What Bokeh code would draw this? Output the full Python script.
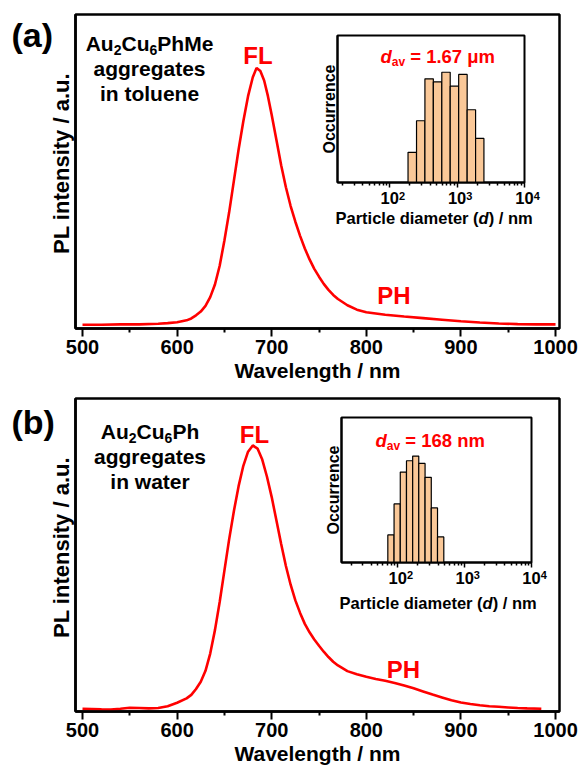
import math
from bokeh.plotting import figure
from bokeh.models import Range1d, FixedTicker, Label, GridBox, Column
from bokeh.embed import file_html
from bokeh.resources import INLINE

FONT = "Liberation Sans"

# ---------------- data ----------------
wl_a = [500, 520, 540, 560, 580, 590, 600, 610, 615, 620, 625, 630, 635, 640, 645, 650,
        655, 660, 665, 670, 675, 680, 684, 688, 692, 696, 700, 705, 710, 715, 720, 725,
        730, 735, 740, 745, 750, 755, 760, 765, 770, 780, 790, 800, 820, 840, 860, 880,
        900, 920, 940, 960, 980, 1000]
pl_a = [1.2, 1.2, 1.3, 1.3, 1.5, 1.7, 2.0, 2.6, 3.2, 4.2, 5.4, 7.2, 10, 14, 20, 28,
        37, 47, 57, 66, 74, 80, 83, 82, 79, 74, 68, 60, 52, 45, 39, 34,
        29.5, 25.5, 22, 19, 16.5, 14.2, 12.3, 10.7, 9.4, 7.4, 6.0, 5.2, 4.4, 3.8, 3.3, 2.8,
        2.3, 1.9, 1.6, 1.4, 1.3, 1.3]

wl_b = [500, 510, 520, 530, 540, 550, 560, 570, 580, 590, 600, 610, 615, 620, 625, 630,
        635, 640, 645, 650, 655, 660, 665, 670, 675, 680, 685, 690, 695, 700, 705, 710,
        715, 720, 725, 730, 735, 740, 745, 750, 755, 760, 765, 770, 780, 790, 800, 810,
        820, 830, 840, 850, 860, 870, 880, 890, 900, 910, 920, 930, 940, 950, 960, 970, 985]
pl_b = [0.9, 0.8, 0.7, 0.65, 0.9, 1.2, 1.1, 1.0, 1.1, 1.7, 2.8, 4.2, 5.3, 7.2, 9.5, 13,
        18.5, 26, 35, 45, 55, 64, 72, 78.5, 83, 85, 84, 80.5, 75, 68.5, 61, 53.5,
        46.5, 40.5, 35.5, 31.5, 28, 25.3, 23, 21, 19.1, 17.4, 15.9, 14.7, 12.9, 11.9, 11.1, 10.4,
        9.8, 9.1, 8.3, 7.4, 6.4, 5.4, 4.5, 3.6, 2.9, 2.4, 2.0, 1.7, 1.5, 1.3, 1.1, 1.0, 0.86]

# inset histograms (bin edges in nm, occurrence counts)
edges_a = [187, 250, 333, 444, 593, 790, 1055, 1410, 1880, 2500]
counts_a = [4.1, 8.4, 14.1, 13.7, 15.0, 13.1, 14.7, 9.9, 6.0]
edges_b = [71, 88, 109, 135, 167, 206, 256, 317, 393, 488]
counts_b = [4.15, 8.8, 13.6, 15.3, 16.0, 14.9, 12.8, 8.2, 3.85]

x_major = [500, 600, 700, 800, 900, 1000]
x_minor = [550, 650, 750, 850, 950]
log_major = [100, 1000, 10000]
log_base = {100: "10", 1000: "10", 10000: "10"}
log_exp = ["2", "3", "4"]

BAR_COLOR = "#FAC898"
RED = "#FF0000"


def main_panel(wl, pl, height, top, bottom):
    p = figure(width=581, height=height, x_range=Range1d(492.6, 1004.2), y_range=Range1d(0, 100),
               output_backend="svg", toolbar_location=None,
               min_border_left=75, min_border_right=22, min_border_top=top, min_border_bottom=bottom)
    p.background_fill_color = "white"
    p.border_fill_color = "white"
    p.grid.visible = False
    p.outline_line_color = "black"
    p.outline_line_width = 2.5
    xa = p.xaxis[0]
    xa.ticker = FixedTicker(ticks=x_major, minor_ticks=x_minor)
    xa.axis_line_width = 2.5
    xa.major_tick_out = 8
    xa.major_tick_in = 0
    xa.minor_tick_out = 4
    xa.minor_tick_in = 0
    xa.major_tick_line_width = 2
    xa.minor_tick_line_width = 2
    xa.major_label_text_font = FONT
    xa.major_label_text_font_style = "bold"
    xa.major_label_text_font_size = "20px"
    xa.major_label_text_color = "black"
    xa.major_label_standoff = 3
    xa.axis_label = "Wavelength / nm"
    xa.axis_label_text_font = FONT
    xa.axis_label_text_font_style = "bold"
    xa.axis_label_text_font_size = "21px"
    xa.axis_label_text_color = "black"
    xa.axis_label_standoff = 2
    ya = p.yaxis[0]
    ya.ticker = FixedTicker(ticks=[])
    ya.axis_line_width = 2.5
    ya.major_tick_out = 0
    ya.minor_tick_out = 0
    ya.major_label_standoff = 0
    p.line(wl, pl, line_color=RED, line_width=2.6)
    return p


def inset(edges, counts, xstart, ytop, width, height, left, fw, fh):
    p = figure(width=width, height=height, x_axis_type="log",
               x_range=Range1d(xstart, 10000), y_range=Range1d(0, ytop),
               output_backend="svg", toolbar_location=None,
               min_border_left=left, min_border_right=width - left - fw,
               min_border_top=8, min_border_bottom=height - 8 - fh)
    p.background_fill_color = "white"
    p.border_fill_color = None
    p.grid.visible = False
    p.outline_line_color = "black"
    p.outline_line_width = 2
    xa = p.xaxis[0]
    xa.ticker = FixedTicker(ticks=log_major,
                            minor_ticks=[m * d for d in (10, 100, 1000) for m in range(2, 10)])
    xa.major_label_overrides = log_base
    xa.axis_line_width = 2
    xa.major_tick_out = 5
    xa.major_tick_in = 0
    xa.minor_tick_out = 3
    xa.minor_tick_in = 0
    xa.major_tick_line_width = 1.5
    xa.minor_tick_line_width = 1.5
    xa.major_label_text_font = FONT
    xa.major_label_text_font_style = "bold"
    xa.major_label_text_font_size = "16.5px"
    xa.major_label_text_color = "black"
    xa.major_label_standoff = 4
    ya = p.yaxis[0]
    ya.ticker = FixedTicker(ticks=[])
    ya.axis_line_width = 2
    ya.major_tick_out = 0
    ya.minor_tick_out = 0
    ya.major_label_standoff = 0
    ya.axis_label = "Occurrence"
    ya.axis_label_text_font = FONT
    ya.axis_label_text_font_style = "bold"
    ya.axis_label_text_font_size = "16px"
    ya.axis_label_text_color = "black"
    ya.axis_label_standoff = 0
    p.quad(left=edges[:-1], right=edges[1:], bottom=0, top=counts,
           fill_color=BAR_COLOR, line_color="black", line_width=1.2)
    return p


# ---------------- text overlay (page pixel coordinates, y downwards) ----------------
ov = figure(width=581, height=774, x_range=Range1d(0, 581), y_range=Range1d(774, 0),
            x_axis_location=None, y_axis_location=None, output_backend="svg",
            toolbar_location=None, min_border=0, min_border_left=0, min_border_right=0,
            min_border_top=0, min_border_bottom=0)
ov.grid.visible = False
ov.outline_line_color = None
ov.background_fill_color = None
ov.border_fill_color = None


def t(x, baseline, text, size, color="black", style="bold", align="left", angle=0.0):
    # y given as the text baseline; converted to the middle of the em box
    y = baseline - 0.3465 * size if angle == 0.0 else baseline
    ov.add_layout(Label(x=x, y=y, text=text, text_font=FONT, text_font_size=f"{size}px",
                        text_font_style=style, text_color=color, text_align=align,
                        text_baseline="middle", angle=angle))


def formula(x0, base, parts):
    x = x0
    for txt, big in parts:
        if big:
            t(x, base, txt, 21)
            x += 28.0
        else:
            t(x, base + 4, txt, 14)
            x += 7.8


# panel (a)
t(11, 46, "(a)", 34)
formula(85.2, 50, [("Au", 1), ("2", 0), ("Cu", 1), ("6", 0), ("PhMe", 1)])
t(149, 75, "aggregates", 21, align="center")
t(149, 100, "in toluene", 21, align="center")
t(257.5, 63, "FL", 24, color=RED, align="center")
t(393.5, 303, "PH", 24, color=RED, align="center")
t(61, 163, "PL intensity / a.u.", 22, align="center", angle=math.pi / 2)
# inset (a)
t(380, 62, "d", 18.5, color=RED, style="bold italic")
t(391.3, 66, "av", 12, color=RED)
t(409.7, 62, "= 1.67 μm", 18.5, color=RED)
t(335, 223.5, "Particle diameter (", 16.5)
t(478.1, 223.5, "d", 16.5, style="bold italic")
t(488.2, 223.5, ") / nm", 16.5)
for xs, e in zip([398.4, 465.8, 533.2], log_exp):
    t(xs, 199, e, 11)

# panel (b)
t(11, 433, "(b)", 34)
formula(100.3, 438, [("Au", 1), ("2", 0), ("Cu", 1), ("6", 0), ("Ph", 1)])
t(149.5, 463, "aggregates", 21, align="center")
t(149.5, 488, "in water", 21, align="center")
t(254, 442, "FL", 24, color=RED, align="center")
t(403, 677, "PH", 24, color=RED, align="center")
t(61, 547, "PL intensity / a.u.", 22, align="center", angle=math.pi / 2)
# inset (b)
t(375, 446, "d", 18.5, color=RED, style="bold italic")
t(386.3, 450, "av", 12, color=RED)
t(404.7, 446, "= 168 nm", 18.5, color=RED)
t(339, 608.5, "Particle diameter (", 16.5)
t(482.1, 608.5, "d", 16.5, style="bold italic")
t(492.2, 608.5, ") / nm", 16.5)
for xs, e in zip([406.4, 473.3, 540.2], log_exp):
    t(xs, 578, e, 11)

# ---------------- panels ----------------
pa = main_panel(wl_a, pl_a, 386, 14, 58)
ia = inset(edges_a, counts_a, 16.8, 20, 230, 210, 27, 187, 147)
pb = main_panel(wl_b, pl_b, 388, 12, 63)
ib = inset(edges_b, counts_b, 14.4, 21.8, 237, 210, 31, 190, 145)

grid = GridBox(children=[(Column(children=[pa]), 0, 0, 2, 2),
                         (Column(children=[ia]), 1, 1, 1, 1),
                         (Column(children=[pb]), 2, 0, 2, 2),
                         (Column(children=[ib]), 3, 1, 1, 1),
                         (Column(children=[ov]), 0, 0, 4, 2)],
               rows=["27px", "359px", "23px", "365px"], cols=["310px", "271px"], spacing=0)

open("out.html", "w").write(file_html(grid, INLINE))
